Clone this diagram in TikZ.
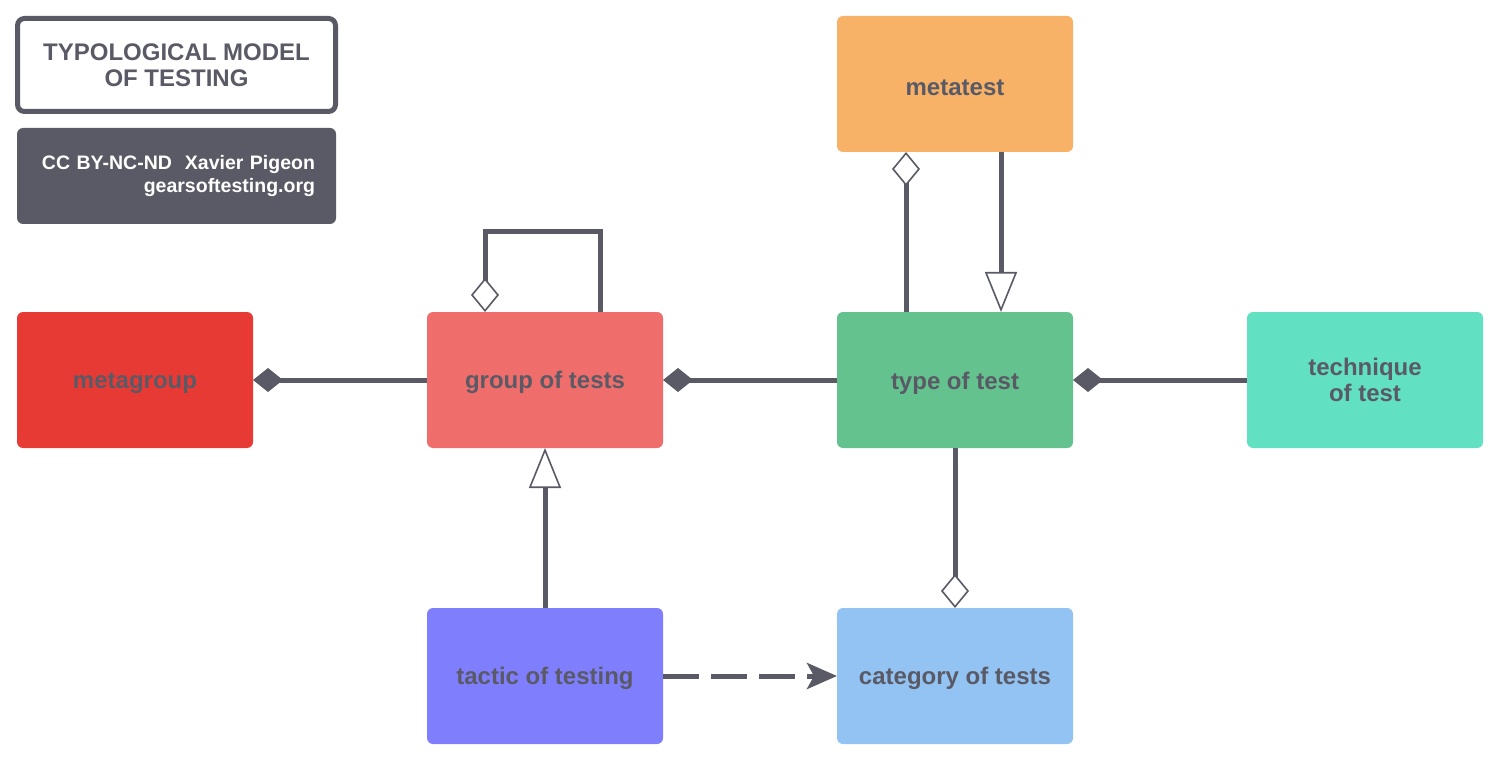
\documentclass[tikz,border=0pt]{standalone}
\usepackage{fontspec}
\setmainfont{Liberation Sans}
\usetikzlibrary{arrows.meta}
\definecolor{ink}{RGB}{90,90,102}
\definecolor{cMetagroup}{RGB}{232,58,53}
\definecolor{cGroup}{RGB}{239,110,107}
\definecolor{cType}{RGB}{99,194,141}
\definecolor{cTechnique}{RGB}{98,224,194}
\definecolor{cMetatest}{RGB}{247,178,103}
\definecolor{cTactic}{RGB}{127,127,253}
\definecolor{cCategory}{RGB}{146,195,242}
\tikzset{
	box/.style={rounded corners=6pt, minimum width=236pt, minimum height=136pt, outer sep=0pt,
		text=ink, align=center, font=\fontsize{24}{26}\selectfont\bfseries,
		execute at begin node={\rule{0pt}{23pt}}},
	link/.style={draw=ink, line width=5pt},
	comp/.style={link, -{Diamond[length=30pt, width=24pt]}},
	aggr/.style={link, -{Diamond[length=34pt, width=28pt, fill=white, line width=1.6pt]}},
	inherit/.style={link, -{Triangle[length=40pt, width=32pt, fill=white, line width=1.6pt]}},
	depend/.style={link, dash pattern=on 36pt off 12pt, -{Stealth[length=30pt, width=26pt, inset=7pt]}}
}
\begin{document}
\begin{tikzpicture}[x=1pt, y=-1pt]
	\useasboundingbox (0,0) rectangle (1500,762);
	% legend
	\node[draw=ink, line width=5pt, rounded corners=7pt, minimum width=318pt, minimum height=93pt,
		text=ink, align=center, font=\fontsize{24}{26}\selectfont\bfseries] (title) at (176.5,65)
		{TYPOLOGICAL MODEL\\OF TESTING};
	\node[fill=ink, rounded corners=6pt, minimum width=319pt, minimum height=96pt, inner xsep=21pt,
		text width=277pt, align=right, text=white, font=\fontsize{19.5}{23}\selectfont\bfseries] (credit) at (176.5,176)
		{CC BY-NC-ND~ Xavier Pigeon\\gearsoftesting.org};
	% concepts
	\node[box, fill=cMetagroup]	(metagroup)	at ( 135,380) {metagroup};
	\node[box, fill=cGroup]		(group)		at ( 545,380) {group of tests};
	\node[box, fill=cType]		(type)		at ( 955,380) {type of test};
	\node[box, fill=cTechnique]	(technique)	at (1365,380) {technique\\of test};
	\node[box, fill=cMetatest]	(metatest)	at ( 955, 84) {metatest};
	\node[box, fill=cTactic]	(tactic)	at ( 545,676) {tactic of testing};
	\node[box, fill=cCategory]	(category)	at ( 955,676) {category of tests};
	% relations
	\draw[comp] (group) -- (metagroup);
	\draw[comp] (type) -- (group);
	\draw[comp] (technique) -- (type);
	\draw[aggr] ([xshift=55]group.north) -- ++(0,-80) -| ([xshift=-60]group.north);
	\draw[aggr] ([xshift=-49]type.north) -- ([xshift=-49]metatest.south);
	\draw[inherit] ([xshift=46]metatest.south) -- ([xshift=46]type.north);
	\draw[inherit] (tactic) -- (group);
	\draw[aggr] (type) -- (category);
	\draw[depend] (tactic) -- (category);
\end{tikzpicture}
\end{document}
